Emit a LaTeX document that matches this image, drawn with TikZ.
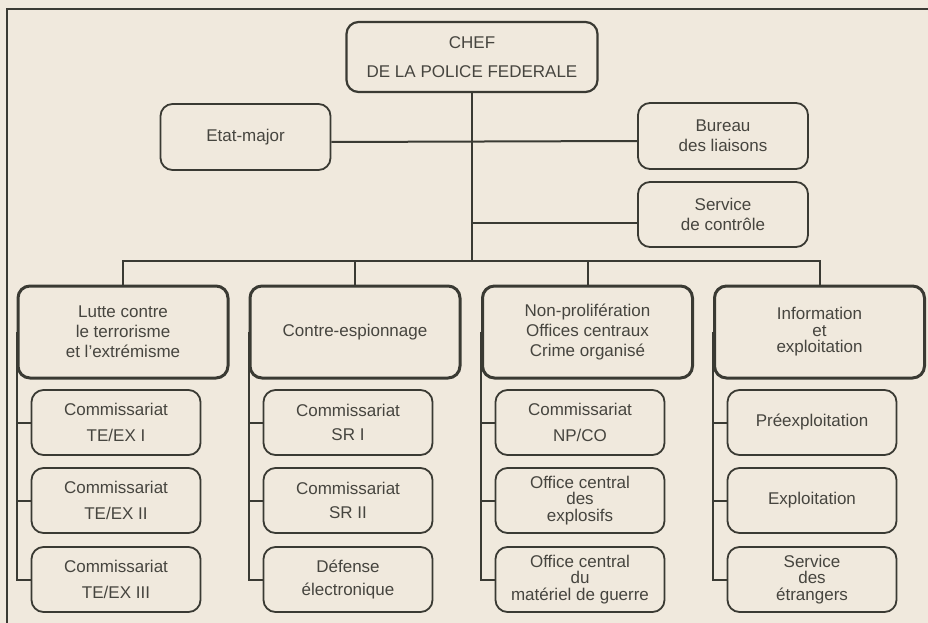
\documentclass[tikz,border=0pt]{standalone}
\usepackage{fontspec}
\setmainfont{Liberation Sans}
\definecolor{paper}{HTML}{F0E9DD}
\definecolor{ink}{HTML}{3A3A33}
\definecolor{txt}{HTML}{46453F}
\begin{document}
\begin{tikzpicture}[x = 1pt, y = -1pt,
                    box/.style = {shape = rectangle,
                                  rounded corners = 12pt,
                                  draw = ink,
                                  line width = 1.8pt,
                                  text = txt,
                                  align = center,
                                  inner sep = 2pt,
                                  font = \fontsize{17}{20}\selectfont},
                    topbox/.style = {box, minimum width = 170pt, minimum height = 66pt},
                    lbox/.style = {box, line width = 3pt, minimum width = 210pt, minimum height = 92pt},
                    sbox/.style = {box, minimum width = 169pt, minimum height = 65pt},
                    tight/.style = {font = \fontsize{17}{16.5}\selectfont},
                    link/.style = {draw = ink, line width = 2pt}]
		\useasboundingbox (0,0) rectangle (928,623);
		\fill[paper] (0,0) rectangle (928,623);
		\draw[ink, line width = 2.5pt] (7,623) -- (7,9) -- (928,9);

		% direction
		\node[box, line width = 2.2pt, minimum width = 251pt, minimum height = 70pt] (chef) at (472,57) {CHEF\\[9pt]DE LA POLICE FEDERALE};
		\node[topbox] (etat) at (245.5,137) {Etat-major};
		\node[topbox] (bureau) at (723,136) {Bureau\\des liaisons};
		\node[topbox, minimum height = 65pt] (controle) at (723,214.5) {Service\\de contrôle};

		% divisions
		\node[lbox] (lutte) at (123,332) {Lutte contre\\le terrorisme\\et l'extrémisme};
		\node[lbox] (contre) at (355,332) {Contre-espionnage};
		\node[lbox] (nonpro) at (587.5,332) {Non-prolifération\\Offices centraux\\Crime organisé};
		\node[lbox, tight] (info) at (819.5,332) {Information\\et\\exploitation};

		% sections
		\node[sbox] (te1) at (116,422.5) {Commissariat\\[6pt]TE/EX I};
		\node[sbox] (te2) at (116,500.5) {Commissariat\\[6pt]TE/EX II};
		\node[sbox] (te3) at (116,579.5) {Commissariat\\[6pt]TE/EX III};
		\node[sbox] (sr1) at (348,422.5) {Commissariat\\[4pt]SR I};
		\node[sbox] (sr2) at (348,500.5) {Commissariat\\[4pt]SR II};
		\node[sbox] (defense) at (348,579.5) {Défense\\[3pt]électronique};
		\node[sbox] (npco) at (580,422.5) {Commissariat\\[6pt]NP/CO};
		\node[sbox, tight] (explo) at (580,500.5) {Office central\\des\\explosifs};
		\node[sbox, tight] (materiel) at (580,579.5) {Office central\\du\\matériel de guerre};
		\node[sbox] (preexp) at (812,422.5) {Préexploitation};
		\node[sbox] (exploit) at (812,500.5) {Exploitation};
		\node[sbox, tight] (etrangers) at (812,579.5) {Service\\des\\étrangers};

		% liaisons
		\coordinate (bus) at (472,261);
		\draw[link] (chef.south) -- (bus);
		\draw[link] ([yshift=-5pt]etat.east) -- ([yshift=-5pt]bureau.west);
		\path ([yshift=-8pt]controle.west) coordinate (cw);
		\draw[link] (cw) -- (cw -| chef.south);
		\draw[link] (lutte.north) -- (lutte.north |- bus) -- (info.north |- bus) -- (info.north);
		\foreach \n in {contre,nonpro}
			\draw[link] (\n.north |- bus) -- (\n.north);
		\foreach \l/\a/\b/\c in {lutte/te1/te2/te3, contre/sr1/sr2/defense,
		                         nonpro/npco/explo/materiel, info/preexp/exploit/etrangers}{
			\draw[link] (\l.west) |- (\c.west);
			\draw[link] (\a.west -| \l.west) -- (\a.west);
			\draw[link] (\b.west -| \l.west) -- (\b.west);
		}
	\end{tikzpicture}
\end{document}
